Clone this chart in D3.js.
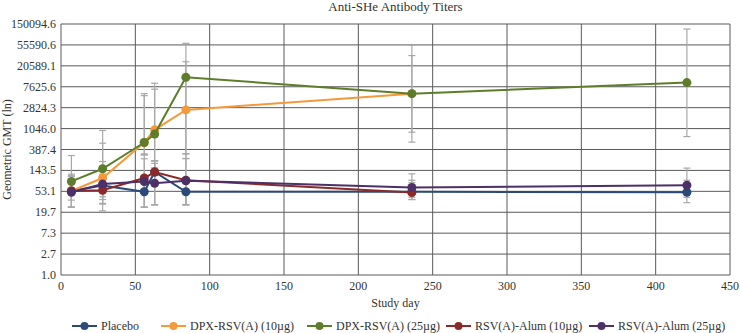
<!DOCTYPE html>
<html>
<head>
<meta charset="utf-8">
<script src="https://cdn.jsdelivr.net/npm/d3@7"></script>
<style>
  body { margin: 0; background: #fff; }
  text { font-family: "Liberation Serif", "DejaVu Serif", serif; fill: #333; }
</style>
</head>
<body>
<svg id="chart" width="740" height="333"></svg>
<script>
// Study days where titers were measured
const days = [7, 28, 56, 63, 84, 236, 421];

// Y ticks are powers of 2.7 (Excel log axis)
const yTickLabels = ["1.0", "2.7", "7.3", "19.7", "53.1", "143.5", "387.4", "1046.0", "2824.3", "7625.6", "20589.1", "55590.6", "150094.6"];
const yTickValues = d3.range(0, 13).map(k => Math.pow(2.7, k));
const xTicks = [0, 50, 100, 150, 200, 250, 300, 350, 400, 450];

// GMT values per group (null = not measured)
const placebo    = [54, 70, 52, 133, 52, 52, 51];
const dpx10      = [54, 100, 540, 985, 2540, 5500, null];
const dpx25      = [85, 155, 540, 805, 12000, 5500, 9300];
const alum10     = [54, 56, 100, 133, 90, 50, null];
const alum25     = [51, 75, 85, 78, 88, 64, 71];

// 95% CI lower / upper
const placeboLo  = [25, 30, 25, 28, 28, 36, 31];
const placeboHi  = [110, 160, 110, 226, 100, 80, 90];
const dpx10Lo    = [25, 21, 315, 162, 315, 880, null];
const dpx10Hi    = [120, 957, 5000, 6800, 25000, 33500, null];
const dpx25Lo    = [35, 41, 300, 226, 252, 550, 716];
const dpx25Hi    = [291, 523, 5500, 9000, 60000, 55000, 118000];
const alum10Lo   = [25, 29, 25, 28, 28, 36, null];
const alum10Hi   = [110, 120, 300, 226, 252, 90, null];
const alum25Lo   = [25, 36, 25, 28, 28, 40, 40];
const alum25Hi   = [110, 219, 250, 200, 315, 122, 160];

const seriesNames = ["Placebo", "DPX-RSV(A) (10µg)", "DPX-RSV(A) (25µg)", "RSV(A)-Alum (10µg)", "RSV(A)-Alum (25µg)"];
const seriesColors = ["#2c4a78", "#f5993a", "#5e7d2b", "#8a2a2a", "#4d3068"];
const seriesValues = [placebo, dpx10, dpx25, alum10, alum25];
const seriesLo = [placeboLo, dpx10Lo, dpx25Lo, alum10Lo, alum25Lo];
const seriesHi = [placeboHi, dpx10Hi, dpx25Hi, alum10Hi, alum25Hi];

const svg = d3.select('#chart');
const margin = { left: 61, right: 10, top: 24, bottom: 58 };
const width = 740 - margin.left - margin.right;
const height = 333 - margin.top - margin.bottom;

const x = d3.scaleLinear().domain([0, 450]).range([margin.left, margin.left + width]);
const y = d3.scaleLog().base(2.7).domain([1, Math.pow(2.7, 12)]).range([margin.top + height, margin.top]);

// Title
svg.append('text')
  .attr('x', x(225)).attr('y', 11)
  .attr('text-anchor', 'middle')
  .style('font-size', '13px')
  .text('Anti-SHe Antibody Titers');

// Grid lines
const grid = svg.append('g').attr('class', 'grid');
grid.selectAll('.hgrid')
  .data(yTickValues)
  .enter().append('line')
  .attr('x1', x(0)).attr('x2', x(450))
  .attr('y1', d => y(d)).attr('y2', d => y(d))
  .style('stroke', '#5a5a5a').style('stroke-width', 1);
grid.selectAll('.vgrid')
  .data(xTicks)
  .enter().append('line')
  .attr('x1', d => x(d)).attr('x2', d => x(d))
  .attr('y1', y(1)).attr('y2', y(Math.pow(2.7, 12)))
  .style('stroke', '#5a5a5a').style('stroke-width', 1);

// Y axis tick labels
svg.append('g').selectAll('text')
  .data(yTickValues)
  .enter().append('text')
  .attr('x', margin.left - 5)
  .attr('y', d => y(d) + 4)
  .attr('text-anchor', 'end')
  .style('font-size', '12px')
  .text((d, i) => yTickLabels[i]);

// X axis tick labels
svg.append('g').selectAll('text')
  .data(xTicks)
  .enter().append('text')
  .attr('x', d => x(d))
  .attr('y', margin.top + height + 15)
  .attr('text-anchor', 'middle')
  .style('font-size', '12px')
  .text(d => d);

// Axis titles
svg.append('text')
  .attr('x', x(225)).attr('y', margin.top + height + 32)
  .attr('text-anchor', 'middle')
  .style('font-size', '12px')
  .text('Study day');

svg.append('text')
  .attr('transform', `translate(11, ${margin.top + height / 2}) rotate(-90)`)
  .attr('text-anchor', 'middle')
  .style('font-size', '12px')
  .text('Geometric GMT (ln)');

// Error bars (drawn under the lines)
const errs = svg.append('g').attr('class', 'errors');
seriesValues.forEach((vals, s) => {
  days.forEach((day, i) => {
    if (vals[i] == null) return;
    const lo = seriesLo[s][i], hi = seriesHi[s][i];
    const g = errs.append('g');
    g.append('line')
      .attr('x1', x(day)).attr('x2', x(day))
      .attr('y1', y(lo)).attr('y2', y(hi))
      .style('stroke', '#a8a8a8').style('stroke-width', 1.2);
    [lo, hi].forEach(v => {
      g.append('line')
        .attr('x1', x(day) - 3.5).attr('x2', x(day) + 3.5)
        .attr('y1', y(v)).attr('y2', y(v))
        .style('stroke', '#a8a8a8').style('stroke-width', 1.2);
    });
  });
});

// Lines and markers
const line = d3.line()
  .defined(d => d.v != null)
  .x(d => x(d.day))
  .y(d => y(d.v));

seriesValues.forEach((vals, s) => {
  const pts = days.map((day, i) => ({ day: day, v: vals[i] }));
  const g = svg.append('g').attr('class', 'series');
  g.append('path')
    .datum(pts)
    .attr('d', line)
    .style('fill', 'none')
    .style('stroke', seriesColors[s])
    .style('stroke-width', 2);
  g.selectAll('circle')
    .data(pts.filter(d => d.v != null))
    .enter().append('circle')
    .attr('cx', d => x(d.day))
    .attr('cy', d => y(d.v))
    .attr('r', 4.5)
    .style('fill', seriesColors[s]);
});

// Legend (item start positions match the reference spacing)
const legendStarts = [72, 161, 307, 446, 589];
const legend = svg.append('g').attr('class', 'legend');
const ly = 326;
seriesNames.forEach((name, s) => {
  const lx = legendStarts[s];
  legend.append('line')
    .attr('x1', lx).attr('x2', lx + 25)
    .attr('y1', ly).attr('y2', ly)
    .style('stroke', seriesColors[s]).style('stroke-width', 2);
  legend.append('circle')
    .attr('cx', lx + 12.5).attr('cy', ly).attr('r', 4)
    .style('fill', seriesColors[s]);
  legend.append('text')
    .attr('x', lx + 29).attr('y', ly + 4)
    .style('font-size', '12px')
    .text(name);
});
</script>
</body>
</html>
